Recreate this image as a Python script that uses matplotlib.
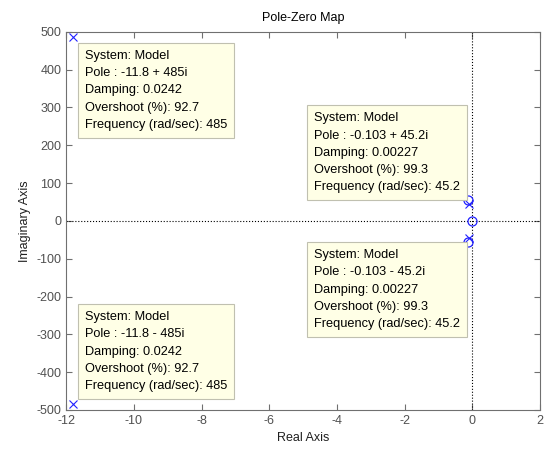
import matplotlib.pyplot as plt

plt.rcParams['font.family'] = ['Liberation Sans', 'DejaVu Sans']
plt.rcParams['axes.unicode_minus'] = False

# poles and zeros of the model
pole_re = [-11.8, -11.8, -0.103, -0.103]
pole_im = [485, -485, 45.2, -45.2]
zero_re = [-0.12, -0.12, 0.0]
zero_im = [55, -55, 0.0]

# datatip contents
tips = [
    ["System: Model", "Pole : -11.8 + 485i", "Damping: 0.0242",
     "Overshoot (%): 92.7", "Frequency (rad/sec): 485"],
    ["System: Model", "Pole : -0.103 + 45.2i", "Damping: 0.00227",
     "Overshoot (%): 99.3", "Frequency (rad/sec): 45.2"],
    ["System: Model", "Pole : -0.103 - 45.2i", "Damping: 0.00227",
     "Overshoot (%): 99.3", "Frequency (rad/sec): 45.2"],
    ["System: Model", "Pole : -11.8 - 485i", "Damping: 0.0242",
     "Overshoot (%): 92.7", "Frequency (rad/sec): 485"],
]
tip_pos = [(-11.45, 452), (-4.68, 287), (-4.68, -75), (-11.45, -239)]

fig = plt.figure(figsize=(5.51, 4.54), dpi=100)
ax = fig.add_axes([0.12, 0.097, 0.86, 0.833])

ax.axhline(0, color='black', linestyle=':', linewidth=0.8)
ax.axvline(0, color='black', linestyle=':', linewidth=0.8)

ax.plot(pole_re, pole_im, 'x', color='#2020ff', markersize=6, markeredgewidth=0.8)
ax.plot(zero_re, zero_im, 'o', color='#2020ff', markerfacecolor='none',
        markersize=6.5, markeredgewidth=0.9)

for lines, (x, y) in zip(tips, tip_pos):
    ax.text(x, y, "\n".join(lines), fontsize=9.2, va='top', ha='left',
            linespacing=1.58,
            bbox=dict(boxstyle='square,pad=0.55', facecolor='#ffffe6',
                      edgecolor='#c0c0b0', linewidth=0.8))

ax.set_xlim(-12, 2)
ax.set_ylim(-500, 500)
ax.set_xticks(range(-12, 3, 2))
ax.set_yticks(range(-500, 501, 100))
ax.tick_params(direction='in', top=True, right=True, labelsize=9,
               length=4, color='#707070', labelcolor='#505050')
for s in ax.spines.values():
    s.set_linewidth(0.8)
    s.set_color('#707070')

ax.set_title("Pole-Zero Map", fontsize=9, pad=8)
ax.set_xlabel("Real Axis", fontsize=9, color='#202020')
ax.set_ylabel("Imaginary Axis", fontsize=9, color='#202020')

fig.savefig("out.png", dpi=100)
